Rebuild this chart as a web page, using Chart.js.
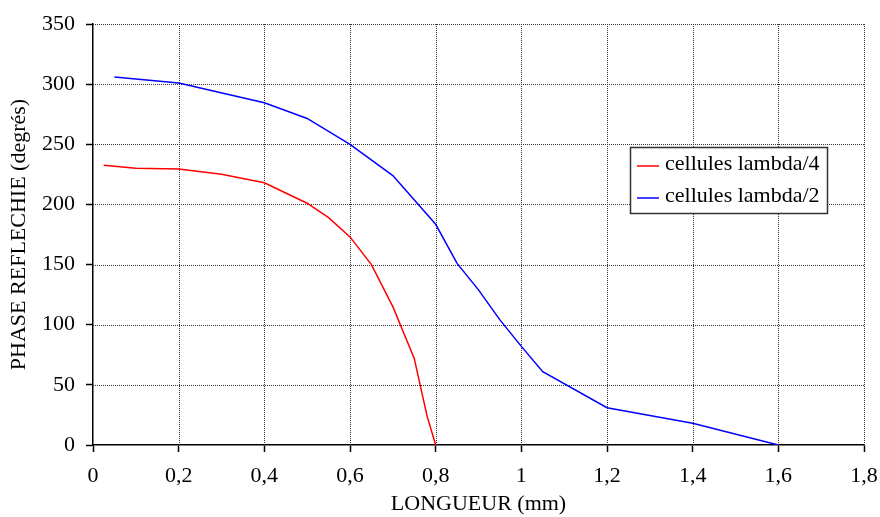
<!DOCTYPE html>
<html>
<head>
<meta charset="utf-8">
<script src="https://cdn.jsdelivr.net/npm/chart.js@4/dist/chart.umd.min.js"></script>
<style>
  html, body { margin: 0; padding: 0; background: #fff; }
  #wrap { width: 880px; height: 517px; }
</style>
</head>
<body>
<div id="wrap"><canvas id="chart" width="880" height="517"></canvas></div>
<script>
// --- DATA ---
const longueurL4 = [0.025, 0.1, 0.2, 0.3, 0.4, 0.5, 0.55, 0.6, 0.65, 0.7, 0.75, 0.78, 0.8];
const phaseL4 = [232.5, 230, 229.5, 225, 218, 201, 189, 173, 150, 115, 72, 24, 0];
const longueurL2 = [0.05, 0.2, 0.4, 0.5, 0.6, 0.7, 0.8, 0.85, 0.9, 0.95, 1.0, 1.05, 1.2, 1.4, 1.6];
const phaseL2 = [306, 301, 284.5, 271.5, 250, 224, 183.5, 151, 129, 104, 82, 61, 31, 18, 0];
const seriesLabels = ['cellules lambda/4', 'cellules lambda/2'];
const seriesColors = ['#ff0000', '#0000ff'];
const xTitle = 'LONGUEUR (mm)';
const yTitle = 'PHASE REFLECHIE (degrés)';

const FONT = 'Liberation Serif';
const FS = 22;

function toPoints(xs, ys) {
    return xs.map((x, i) => ({ x: x, y: ys[i] }));
}

// --- DOTTED GRID (dash option is ignored, so draw it from the scales) ---
const dottedGrid = {
    id: 'dottedGrid',
    beforeDatasetsDraw(chart) {
        const ctx = chart.ctx;
        const area = chart.chartArea;
        const sx = chart.scales.x, sy = chart.scales.y;
        ctx.save();
        ctx.strokeStyle = '#333';
        ctx.lineWidth = 1;
        ctx.setLineDash([1, 1]);
        sx.ticks.forEach(t => {
            const px = Math.round(sx.getPixelForValue(t.value)) + 0.5;
            if (px < area.left + 2) return;
            ctx.beginPath();
            ctx.moveTo(px, area.top);
            ctx.lineTo(px, area.bottom);
            ctx.stroke();
        });
        sy.ticks.forEach(t => {
            const py = Math.round(sy.getPixelForValue(t.value)) + 0.5;
            if (py > area.bottom - 2) return;
            ctx.beginPath();
            ctx.moveTo(area.left, py);
            ctx.lineTo(area.right, py);
            ctx.stroke();
        });
        ctx.restore();
    }
};

// --- LEGEND BOX (drawn inside the plot) ---
const boxLegend = {
    id: 'boxLegend',
    afterDraw(chart) {
        const ctx = chart.ctx;
        const x = 630, y = 147, w = 197, h = 66;
        ctx.save();
        ctx.fillStyle = '#fff';
        ctx.fillRect(x, y, w, h);
        ctx.strokeStyle = '#333';
        ctx.lineWidth = 1.5;
        ctx.strokeRect(x + 0.5, y + 0.5, w, h);
        ctx.font = FS + 'px "' + FONT + '"';
        ctx.textBaseline = 'middle';
        chart.data.datasets.forEach((ds, i) => {
            const cy = y + 17 + i * 32;
            ctx.strokeStyle = ds.borderColor;
            ctx.lineWidth = 1.5;
            ctx.beginPath();
            ctx.moveTo(x + 7, cy + 2);
            ctx.lineTo(x + 29, cy + 2);
            ctx.stroke();
            ctx.fillStyle = '#000';
            ctx.fillText(ds.label, x + 35, cy);
        });
        ctx.restore();
    }
};

const gridOpts = {
    drawOnChartArea: false,
    tickLength: 7,
    tickColor: '#000',
    tickWidth: 1.5
};

new Chart(document.getElementById('chart').getContext('2d'), {
    type: 'scatter',
    data: {
        datasets: [
            {
                label: seriesLabels[0],
                data: toPoints(longueurL4, phaseL4),
                showLine: true,
                borderColor: seriesColors[0],
                borderWidth: 1.5,
                pointRadius: 0,
                tension: 0
            },
            {
                label: seriesLabels[1],
                data: toPoints(longueurL2, phaseL2),
                showLine: true,
                borderColor: seriesColors[1],
                borderWidth: 1.5,
                pointRadius: 0,
                tension: 0
            }
        ]
    },
    options: {
        responsive: false,
        animation: false,
        layout: { padding: { top: 24, right: 16, left: 0, bottom: 0 } },
        plugins: {
            legend: { display: false },
            tooltip: { enabled: false }
        },
        scales: {
            x: {
                type: 'linear',
                min: 0,
                max: 1.8,
                grid: gridOpts,
                border: { display: true, color: '#000', width: 1.5 },
                ticks: {
                    stepSize: 0.2,
                    color: '#000',
                    padding: 11,
                    maxRotation: 0,
                    font: { family: FONT, size: FS },
                    callback: v => String(Math.round(v * 10) / 10).replace('.', ',')
                },
                title: {
                    display: true,
                    text: xTitle,
                    color: '#000',
                    padding: { top: 0, bottom: 0 },
                    font: { family: FONT, size: FS }
                },
                afterFit: s => {
                    s.height = 72;
                    s.paddingLeft = 0;
                    s.paddingRight = 0;
                }
            },
            y: {
                min: 0,
                max: 350,
                grid: gridOpts,
                border: { display: true, color: '#000', width: 1.5 },
                ticks: {
                    stepSize: 50,
                    color: '#000',
                    padding: 11,
                    font: { family: FONT, size: FS }
                },
                title: {
                    display: true,
                    text: yTitle,
                    color: '#000',
                    padding: { top: 6, bottom: 0 },
                    font: { family: FONT, size: FS }
                },
                afterFit: s => {
                    s.width = 93;
                    s.paddingTop = 0;
                    s.paddingBottom = 0;
                }
            }
        }
    },
    plugins: [dottedGrid, boxLegend]
});
</script>
</body>
</html>
